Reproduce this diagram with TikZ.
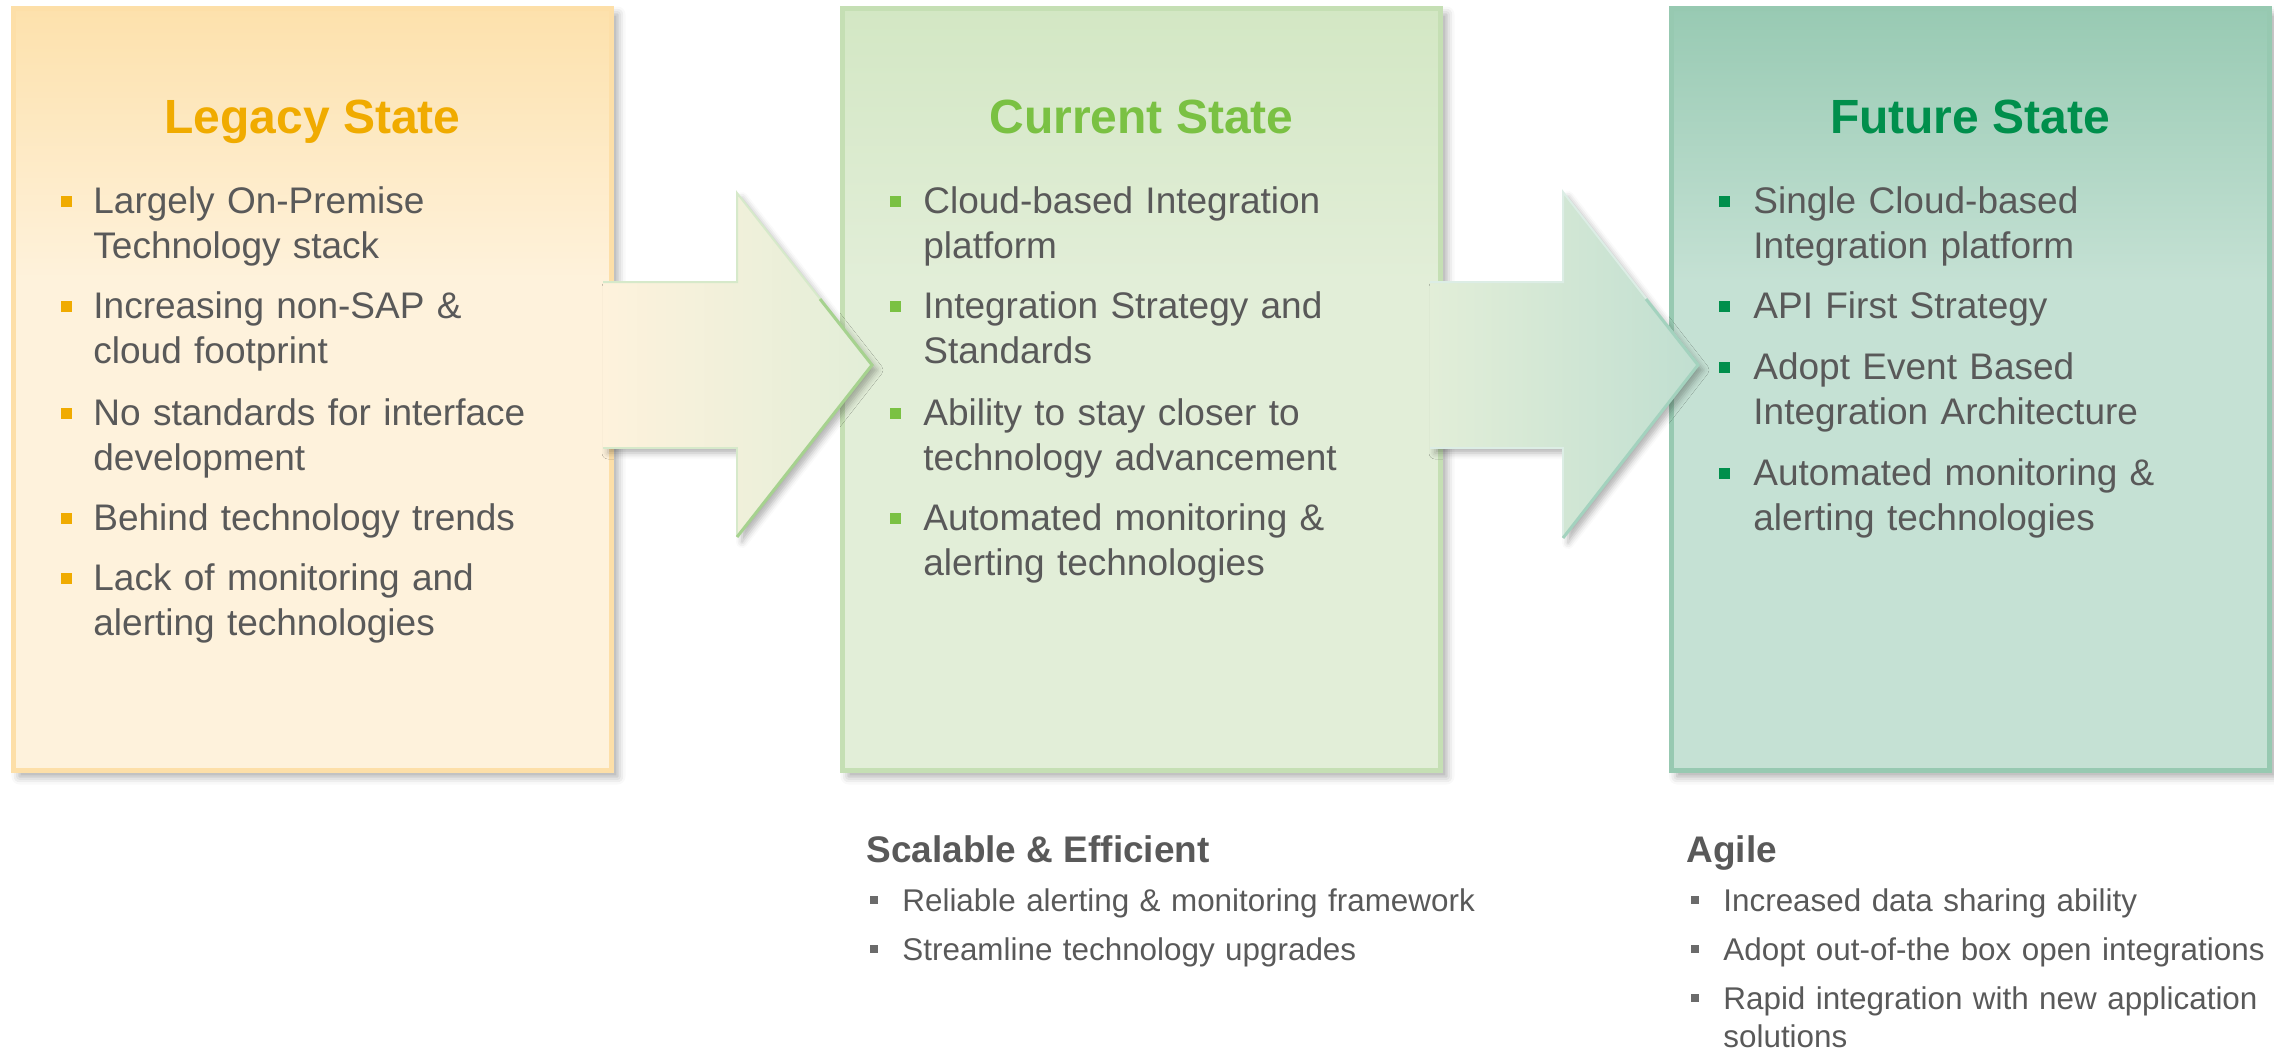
\documentclass[tikz,border=0pt]{standalone}
\usepackage{fontspec}
\setmainfont{Liberation Sans}
\usetikzlibrary{shadows.blur}

\definecolor{textgray}{HTML}{595959}
\definecolor{bulletgray}{HTML}{6B6B6B}
\definecolor{legacyorange}{HTML}{F0AB00}
\definecolor{legacytop}{HTML}{FDE1AC}
\definecolor{legacypale}{HTML}{FEF2DC}
\definecolor{legacyline}{HTML}{FDDFA8}
\definecolor{currentgreen}{HTML}{7AC143}
\definecolor{currenttop}{HTML}{D3E7C4}
\definecolor{currentpale}{HTML}{E2EED8}
\definecolor{currentline}{HTML}{C5DFB4}
\definecolor{futuregreen}{HTML}{008F4C}
\definecolor{futuretop}{HTML}{98CAB3}
\definecolor{futurepale}{HTML}{C5E1D4}
\definecolor{futureline}{HTML}{97C9B1}
\definecolor{arrowedge}{HTML}{A6D28F}
\definecolor{arrowedgeb}{HTML}{A3D2BE}

\pgfdeclareverticalshading{legacyfade}{100bp}{%
  color(0bp)=(legacypale); color(57bp)=(legacypale);
  color(75bp)=(legacytop); color(100bp)=(legacytop)}
\pgfdeclareverticalshading{currentfade}{100bp}{%
  color(0bp)=(currentpale); color(57bp)=(currentpale);
  color(75bp)=(currenttop); color(100bp)=(currenttop)}
\pgfdeclareverticalshading{futurefade}{100bp}{%
  color(0bp)=(futurepale); color(57bp)=(futurepale);
  color(75bp)=(futuretop); color(100bp)=(futuretop)}

\begin{document}
\begin{tikzpicture}[%
      x=0.5pt, y=-0.5pt,
      statebox/.style={draw, line width=2.5pt, inner sep=0pt,
        minimum width=299pt, minimum height=381pt,
        blur shadow={shadow xshift=3pt, shadow yshift=-3pt,
          shadow blur radius=4pt, shadow opacity=35}},
      blockarrow/.style={blur shadow={shadow xshift=2.5pt, shadow yshift=-2.5pt,
          shadow blur radius=3pt, shadow opacity=30}},
      statetitle/.style={anchor=base, inner sep=0pt,
        font=\fontsize{24}{28}\selectfont\bfseries},
      itemtext/.style={anchor=base west, inner sep=0pt, text width=300pt,
        align=left, text=textgray, font=\fontsize{18.5}{22.5}\selectfont},
      gaintext/.style={itemtext, text width=340pt,
        font=\fontsize{15.7}{19}\selectfont},
      gainhead/.style={anchor=base west, inner sep=0pt, text=textgray,
        font=\fontsize{18.5}{22}\selectfont\bfseries},
      sq/.style={minimum size=5.5pt, inner sep=0pt},
      lsq/.style={sq, fill=legacyorange},
      csq/.style={sq, fill=currentgreen},
      fsq/.style={sq, fill=futuregreen},
      gsq/.style={sq, minimum size=4pt, fill=bulletgray},
      ]
      \useasboundingbox (0,0) rectangle (2274,1051);

      % the three state boxes
      \node[statebox, draw=legacyline, shading=legacyfade] (legacy) at (312.5,389.5) {};
      \node[statebox, draw=currentline, shading=currentfade] (current) at (1141.5,389.5) {};
      \node[statebox, draw=futureline, shading=futurefade] (future) at (1970,389.5) {};

      % block arrows
      \path[blockarrow, left color=legacypale, right color=currentpale]
        (603,282) -- (737,282) -- (737,193) -- (872,365) -- (737,537) -- (737,448) -- (603,448) -- cycle;
      \draw[currentline!70!white, line width=1pt] (603,282) -- (737,282) -- (737,193) -- (872,365);
      \draw[currentline!70!white, line width=1pt] (737,537) -- (737,448) -- (603,448);
      \draw[arrowedge, line width=1.5pt, line join=miter] (820,299) -- (872,365) -- (737,537);

      \path[blockarrow, left color=currentpale, right color=futurepale!90!futuretop]
        (1430,282) -- (1563,282) -- (1563,192) -- (1698,365) -- (1563,538) -- (1563,448) -- (1430,448) -- cycle;
      \draw[futurepale!60!white, line width=1pt] (1430,282) -- (1563,282) -- (1563,192) -- (1698,365);
      \draw[futurepale!60!white, line width=1pt] (1563,538) -- (1563,448) -- (1430,448);
      \draw[arrowedgeb, line width=1.5pt, line join=miter] (1646,299) -- (1698,365) -- (1563,538);

      % titles
      \node[statetitle, text=legacyorange] (legacytitle) at (312.5,133) {Legacy State};
      \node[statetitle, text=currentgreen] (currenttitle) at (1141.5,133) {Current State};
      \node[statetitle, text=futuregreen] (futuretitle) at (1970,133) {Future State};

      % legacy items
      \node[lsq] (lb1) at (66,201) {};
      \node[itemtext] (lt1) at (93,213) {Largely On-Premise\\Technology stack};
      \node[lsq] (lb2) at (66,306) {};
      \node[itemtext] (lt2) at (93,318) {Increasing non-SAP \&\\cloud footprint};
      \node[lsq] (lb3) at (66,413) {};
      \node[itemtext] (lt3) at (93,425) {No standards for interface\\development};
      \node[lsq] (lb4) at (66,518) {};
      \node[itemtext] (lt4) at (93,530) {Behind technology trends};
      \node[lsq] (lb5) at (66,578) {};
      \node[itemtext] (lt5) at (93,590) {Lack of monitoring and\\alerting technologies};

      % current items
      \node[csq] (cb1) at (895,201) {};
      \node[itemtext] (ct1) at (923,213) {Cloud-based Integration\\platform};
      \node[csq] (cb2) at (895,306) {};
      \node[itemtext] (ct2) at (923,318) {Integration Strategy and\\Standards};
      \node[csq] (cb3) at (895,413) {};
      \node[itemtext] (ct3) at (923,425) {Ability to stay closer to\\technology advancement};
      \node[csq] (cb4) at (895,518) {};
      \node[itemtext] (ct4) at (923,530) {Automated monitoring \&\\alerting technologies};

      % future items
      \node[fsq] (fb1) at (1724,201) {};
      \node[itemtext] (ft1) at (1753,213) {Single Cloud-based\\Integration platform};
      \node[fsq] (fb2) at (1724,306) {};
      \node[itemtext] (ft2) at (1753,318) {API First Strategy};
      \node[fsq] (fb3) at (1724,367) {};
      \node[itemtext] (ft3) at (1753,379) {Adopt Event Based\\Integration Architecture};
      \node[fsq] (fb4) at (1724,473) {};
      \node[itemtext] (ft4) at (1753,485) {Automated monitoring \&\\alerting technologies};

      % gains below the boxes
      \node[gainhead] (scalehead) at (866,862) {Scalable \& Efficient};
      \node[gsq] (sb1) at (874,900) {};
      \node[gaintext] (st1) at (902,911) {Reliable alerting \& monitoring framework};
      \node[gsq] (sb2) at (874,949) {};
      \node[gaintext] (st2) at (902,960) {Streamline technology upgrades};

      \node[gainhead] (agilehead) at (1686,862) {Agile};
      \node[gsq] (ab1) at (1695,900) {};
      \node[gaintext] (at1) at (1723,911) {Increased data sharing ability};
      \node[gsq] (ab2) at (1695,949) {};
      \node[gaintext] (at2) at (1723,960) {Adopt out-of-the box open integrations};
      \node[gsq] (ab3) at (1695,998) {};
      \node[gaintext] (at3) at (1723,1009) {Rapid integration with new application\\solutions};
\end{tikzpicture}
\end{document}
